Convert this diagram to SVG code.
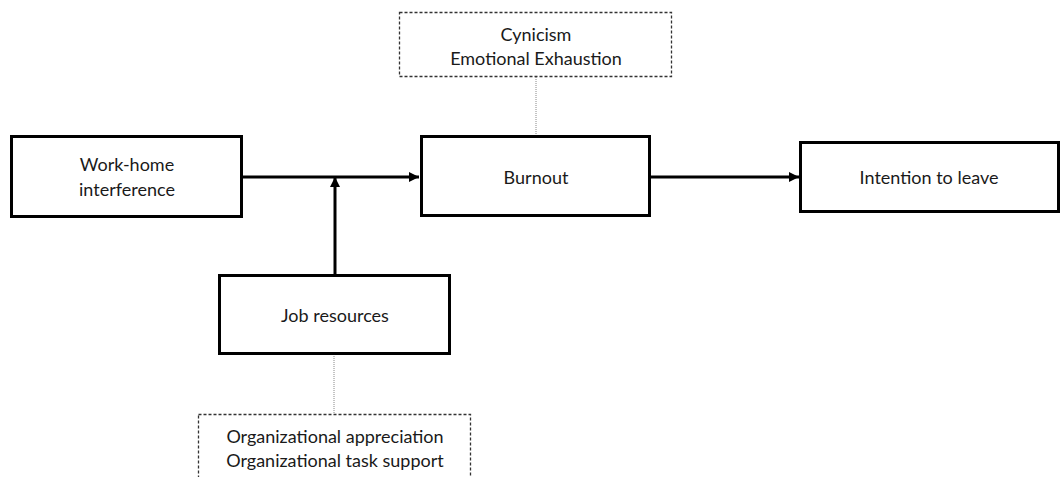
<svg xmlns="http://www.w3.org/2000/svg" width="1061" height="477" viewBox="0 0 1061 477">
<defs>
<marker id="arr" viewBox="0 0 10 10" refX="10" refY="5" markerWidth="10" markerHeight="10" markerUnits="userSpaceOnUse" orient="auto">
<path d="M0,0 L10,5 L0,10 z" fill="#000"/>
</marker>
<style>
.box{fill:#fff;stroke:#000;stroke-width:3}
.dbox{fill:#fff;stroke:#333;stroke-width:1.3;stroke-dasharray:3 2}
.t{font-family:Lato,"Liberation Sans",sans-serif;font-size:18px;fill:#1a1a1a;text-anchor:middle;dominant-baseline:central}
.c{stroke:#000;stroke-width:3;fill:none}
.d{stroke:#888;stroke-width:1;fill:none;stroke-dasharray:1 1}
</style>
</defs>
<rect width="1061" height="477" fill="#fff"/>
<g id="connectors">
<line class="d" x1="536" y1="77" x2="536" y2="136"/>
<line class="d" x1="334" y1="354" x2="334" y2="414"/>
<line class="c" x1="242" y1="177" x2="419" y2="177" marker-end="url(#arr)"/>
<line class="c" x1="335" y1="275" x2="335" y2="177" marker-end="url(#arr)"/>
<line class="c" x1="650" y1="177" x2="799" y2="177" marker-end="url(#arr)"/>
</g>
<g id="burnout-dims">
<rect class="dbox" x="399.5" y="12.5" width="272" height="64"/>
<text class="t" x="536" y="34">Cynicism</text>
<text class="t" x="536" y="58">Emotional Exhaustion</text>
</g>
<g id="work-home">
<rect class="box" x="11.5" y="136.5" width="230" height="80"/>
<text class="t" x="127" y="164">Work-home</text>
<text class="t" x="127" y="189">interference</text>
</g>
<g id="burnout">
<rect class="box" x="421.5" y="136.5" width="228" height="79"/>
<text class="t" x="536" y="177">Burnout</text>
</g>
<g id="intention">
<rect class="box" x="800.5" y="142.5" width="258" height="69"/>
<text class="t" x="929" y="177">Intention to leave</text>
</g>
<g id="job-resources">
<rect class="box" x="219.5" y="275.5" width="230" height="78"/>
<text class="t" x="335" y="315">Job resources</text>
</g>
<g id="resource-dims">
<rect class="dbox" x="198.5" y="414.5" width="272" height="80"/>
<text class="t" x="335" y="436">Organizational appreciation</text>
<text class="t" x="335" y="460">Organizational task support</text>
</g>
</svg>
